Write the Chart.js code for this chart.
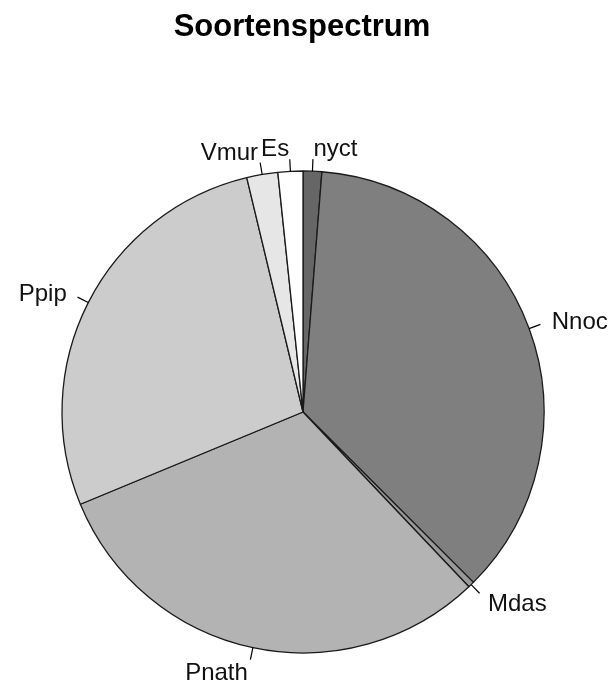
<!DOCTYPE html>
<html>
<head>
<meta charset="utf-8">
<script src="https://cdn.jsdelivr.net/npm/chart.js@4/dist/chart.umd.min.js"></script>
<style>
  html, body { margin: 0; padding: 0; background: #ffffff; }
  canvas { display: block; }
</style>
</head>
<body>
<canvas id="c" width="612" height="686"></canvas>
<script>
// Species counts, drawn clockwise from 12 o'clock
const species = ['nyct', 'Nnoc', 'Mdas', 'Pnath', 'Ppip', 'Vmur', 'Es'];
const counts = [3, 87, 1, 74, 66, 5, 4];
const shades = ['#666666', '#7f7f7f', '#999999', '#b3b3b3', '#cccccc', '#e6e6e6', '#ffffff'];
const chartTitle = 'Soortenspectrum';

const FONT = '"Liberation Sans", Arial, Helvetica, sans-serif';

// Title plus outside labels with short tick lines (label at 1.1 r, tick from r to 1.05 r)
const pieLabels = {
  id: 'pieLabels',
  afterDatasetsDraw(chart) {
    const ctx = chart.ctx;
    const meta = chart.getDatasetMeta(0);
    ctx.save();
    ctx.font = 'bold 31px ' + FONT;
    ctx.fillStyle = '#000000';
    ctx.textAlign = 'center';
    ctx.textBaseline = 'middle';
    ctx.fillText(chartTitle, 302, 27);

    ctx.font = '24px ' + FONT;
    ctx.strokeStyle = '#000000';
    ctx.lineWidth = 1.2;
    meta.data.forEach((arc, i) => {
      const p = arc.getProps(['x', 'y', 'startAngle', 'endAngle', 'outerRadius'], true);
      const mid = (p.startAngle + p.endAngle) / 2;
      const cx = Math.cos(mid), cy = Math.sin(mid);
      const r = p.outerRadius;
      ctx.beginPath();
      ctx.moveTo(p.x + r * cx, p.y + r * cy);
      ctx.lineTo(p.x + 1.05 * r * cx, p.y + 1.05 * r * cy);
      ctx.stroke();
      ctx.textAlign = cx < 0 ? 'right' : 'left';
      ctx.textBaseline = 'middle';
      ctx.fillStyle = '#111111';
      ctx.fillText(species[i], p.x + 1.1 * r * cx, p.y + 1.1 * r * cy + 2.5);
    });
    ctx.restore();
  }
};

new Chart(document.getElementById('c'), {
  type: 'pie',
  data: {
    labels: species,
    datasets: [{
      data: counts,
      backgroundColor: shades,
      borderColor: '#1a1a1a',
      borderWidth: 1.3,
      radius: 241
    }]
  },
  options: {
    responsive: false,
    animation: false,
    devicePixelRatio: 1,
    rotation: 0,
    layout: { padding: { left: 60, right: 66, top: 170, bottom: 32 } },
    plugins: {
      legend: { display: false },
      title: { display: false },
      tooltip: { enabled: false }
    }
  },
  plugins: [pieLabels]
});
</script>
</body>
</html>
